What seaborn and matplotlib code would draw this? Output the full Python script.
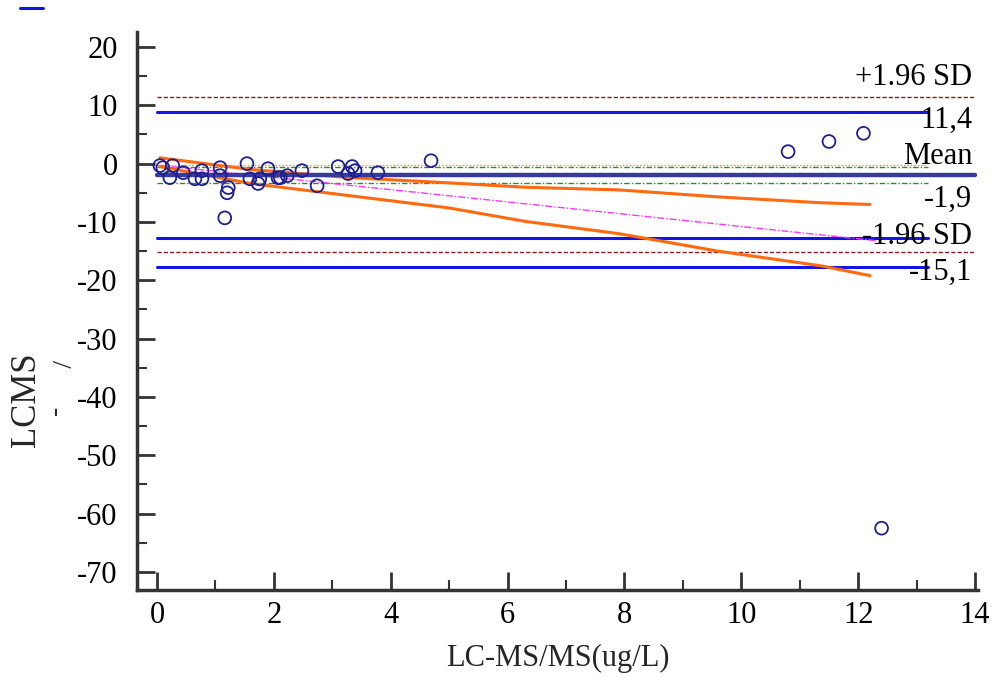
import matplotlib
matplotlib.use("Agg")
import matplotlib.pyplot as plt
import seaborn as sns
import pandas as pd
import numpy as np
from matplotlib.lines import Line2D

# ---- data ----
x_vals = [0.05, 0.10, 0.22, 0.27, 0.45, 0.65, 0.77, 0.77, 1.08, 1.08, 1.22, 1.20,
          1.16, 1.54, 1.59, 1.73, 1.76, 1.90, 2.11, 2.48, 2.07, 2.23, 2.74, 3.10,
          3.34, 3.39, 3.27, 3.78, 4.69, 10.8, 11.5, 12.09, 12.4]
y_vals = [-0.34, -0.69, -2.4, -0.34, -1.55, -2.6, -1.2, -2.6, -0.69, -2.06, -4.1, -5.0,
          -9.3, 0.0, -2.6, -3.4, -2.6, -0.86, -2.4, -1.2, -2.4, -2.06, -3.8, -0.5,
          -0.5, -1.2, -1.7, -1.55, 0.5, 2.06, 3.8, 5.2, -62.5]

upper_sd = 11.4
lower_sd = -15.1
mean_diff = -1.9
mean_ci = [-0.3, -0.6, -3.4]          # orange dotted, green dash-dot, green dash-dot
limit_ci = [8.9, -12.7, -17.7]        # blue solid lines

reg_x = [0.05, 12.3]
reg_y = [-0.3, -13.2]
band_x = [0.05, 1.6, 3.3, 5.0, 6.3, 7.9, 9.6, 11.35, 12.2]
band_up = [1.0, -1.0, -2.4, -3.3, -4.05, -4.5, -5.7, -6.7, -7.0]
band_lo = [-0.5, -3.4, -5.5, -7.6, -9.9, -12.0, -15.0, -17.5, -19.2]

right_labels = ["+1.96 SD", "11,4", "Mean", "-1,9", "-1.96 SD", "-15,1"]
right_label_y = [14.8, 7.4, 1.2, -6.2, -12.5, -18.7]

x_ticks = [0, 2, 4, 6, 8, 10, 12, 14]
y_ticks = [20, 10, 0, -10, -20, -30, -40, -50, -60, -70]

# ---- styling ----
sns.set_theme(style="ticks")
plt.rcParams["font.family"] = ["Liberation Serif", "DejaVu Serif"]
plt.rcParams["axes.unicode_minus"] = False

FS = 22

fig = plt.figure(figsize=(10, 6.77), dpi=100)
ax = fig.add_axes([0.137, 0.1285, 0.841, 0.8245])

xmin, xmax = -0.342, 14.05
ymin, ymax = -73.1, 22.6
ax.set_xlim(xmin, xmax)
ax.set_ylim(ymin, ymax)

# reference lines
ax.plot([0, 14], [upper_sd, upper_sd], color="#8b1a1a", lw=1.0, ls=(0, (3, 1.5)))
ax.plot([0, 14], [lower_sd, lower_sd], color="#8b1a1a", lw=1.0, ls=(0, (3, 1.5)))
for v in limit_ci:
    ax.plot([0, 13.2], [v, v], color="#1414e6", lw=2.2)
ax.plot([0, 13.2], [mean_ci[0], mean_ci[0]], color="#ff8c1a", lw=1.0, ls=(0, (1, 1.5)))
ax.plot([0, 13.2], [mean_ci[1], mean_ci[1]], color="#2e8b2e", lw=1.0, ls=(0, (4, 1.5, 1, 1.5)))
ax.plot([0, 13.2], [mean_ci[2], mean_ci[2]], color="#2e8b2e", lw=1.0, ls=(0, (4, 1.5, 1, 1.5)))

# regression line and its band
reg_df = pd.DataFrame({"x": reg_x, "y": reg_y})
sns.lineplot(data=reg_df, x="x", y="y", ax=ax, color="#ff33ff", lw=1.0,
             linestyle=(0, (5, 1.5, 1, 1.5)), estimator=None, sort=False)
band_df = pd.DataFrame({"x": band_x, "up": band_up, "lo": band_lo})
sns.lineplot(data=band_df, x="x", y="up", ax=ax, color="#ff6a10", lw=2.2,
             estimator=None, sort=False)
sns.lineplot(data=band_df, x="x", y="lo", ax=ax, color="#ff6a10", lw=2.2,
             estimator=None, sort=False)

ax.plot([0, 14], [mean_diff, mean_diff], color="#3a3a9e", lw=3.2, zorder=3)

# data points
pts = pd.DataFrame({"x": x_vals, "y": y_vals})
sns.scatterplot(data=pts, x="x", y="y", ax=ax, s=85, facecolor="none",
                edgecolor="#1f1f8f", linewidth=1.3, zorder=5)

# right labels
for lab, yy in zip(right_labels, right_label_y):
    ax.text(13.95, yy, lab, ha="right", va="center", fontsize=FS, color="black")

# axes styling
for side in ["top", "right"]:
    ax.spines[side].set_visible(False)
for side in ["left", "bottom"]:
    ax.spines[side].set_color("#333333")
    ax.spines[side].set_linewidth(2.5)

ax.set_xticks(x_ticks)
ax.set_yticks(y_ticks)
ax.set_xticks(np.arange(1, 14, 2), minor=True)
ax.set_yticks(np.arange(-65, 20, 10), minor=True)
ax.tick_params(axis="both", which="both", bottom=True, left=True, top=False, right=False)
ax.tick_params(axis="both", which="major", direction="in", length=13, width=2,
               color="#333333", labelsize=FS, labelcolor="black")
ax.tick_params(axis="both", which="minor", direction="in", length=7, width=1.5,
               color="#333333")
ax.tick_params(axis="y", which="major", pad=14)
ax.tick_params(axis="x", which="major", pad=8)

ax.set_xlabel("LC-MS/MS(ug/L)", fontsize=FS, labelpad=10)
ax.set_ylabel("")

# y label pieces
fig.text(0.026, 0.409, "LCMS", rotation=90, ha="center", va="center", fontsize=25)
fig.text(0.056, 0.394, "-", rotation=90, ha="center", va="center", fontsize=20)
fig.text(0.058, 0.463, "/", rotation=-90, ha="center", va="center", fontsize=20)

# tiny legend line at top-left
fig.add_artist(Line2D([0.020, 0.043], [1 - 8 / 677, 1 - 8 / 677], color="#1414e6", lw=2.2,
                      transform=fig.transFigure))

fig.savefig("out.png", dpi=100)
